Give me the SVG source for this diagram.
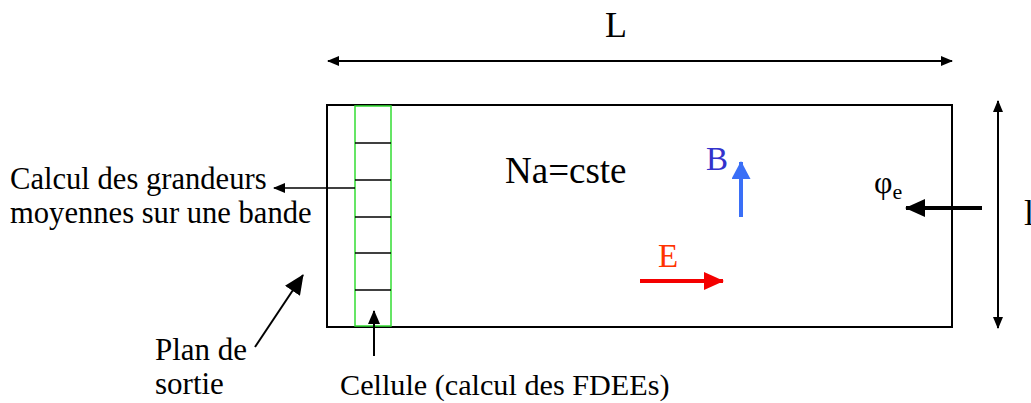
<svg xmlns="http://www.w3.org/2000/svg" width="1031" height="403" viewBox="0 0 1031 403">
<style>
text{font-family:'Liberation Serif','Times New Roman',Times,serif;fill:#000}
.ln{stroke:#000;stroke-width:2;fill:none}
.cl{stroke:#000;stroke-width:1.5}
</style>
<defs>
<marker id="ah" markerWidth="12" markerHeight="10" refX="11" refY="5" orient="auto" markerUnits="userSpaceOnUse" viewBox="0 0 12 10"><path d="M0,0 L12,5 L0,10 z" fill="#000"/></marker>
<marker id="ahs" markerWidth="12" markerHeight="10" refX="1" refY="5" orient="auto" markerUnits="userSpaceOnUse" viewBox="0 0 12 10"><path d="M12,0 L0,5 L12,10 z" fill="#000"/></marker>
<marker id="ahm" markerWidth="14" markerHeight="12" refX="13" refY="6" orient="auto" markerUnits="userSpaceOnUse" viewBox="0 0 14 12"><path d="M0,0 L14,6 L0,12 z" fill="#000"/></marker>
<marker id="ahb" markerWidth="20" markerHeight="18" refX="19" refY="9" orient="auto" markerUnits="userSpaceOnUse" viewBox="0 0 20 18"><path d="M0,0 L20,9 L0,18 z" fill="#000"/></marker>
<marker id="ahBlue" markerWidth="18" markerHeight="19" refX="17" refY="9.5" orient="auto" markerUnits="userSpaceOnUse" viewBox="0 0 18 19"><path d="M0,0 L18,9.5 L0,19 z" fill="#3a6ff7"/></marker>
<marker id="ahRed" markerWidth="20" markerHeight="18" refX="19" refY="9" orient="auto" markerUnits="userSpaceOnUse" viewBox="0 0 20 18"><path d="M0,0 L20,9 L0,18 z" fill="#f40000"/></marker>
</defs>

<g id="domain">
<rect x="327" y="105" width="625" height="222" fill="none" stroke="#000" stroke-width="2"/>
</g>

<g id="band">
<rect x="355" y="106" width="36" height="220" fill="none" stroke="#33dd33" stroke-width="1.5"/>
<line class="cl" x1="355" y1="143" x2="391" y2="143"/>
<line class="cl" x1="355" y1="180" x2="391" y2="180"/>
<line class="cl" x1="355" y1="217" x2="391" y2="217"/>
<line class="cl" x1="355" y1="253" x2="391" y2="253"/>
<line class="cl" x1="355" y1="290" x2="391" y2="290"/>
</g>

<g id="connectors">
<line class="ln" x1="328" y1="61" x2="952" y2="61" marker-start="url(#ahs)" marker-end="url(#ah)"/>
<line class="ln" x1="998" y1="101" x2="998" y2="328" marker-start="url(#ahs)" marker-end="url(#ah)"/>
<line x1="355" y1="188" x2="274" y2="188" stroke="#000" stroke-width="1.5" marker-end="url(#ah)"/>
<line x1="374" y1="356" x2="374" y2="311" stroke="#000" stroke-width="2" marker-end="url(#ahm)"/>
<line x1="255" y1="347" x2="303" y2="275" stroke="#000" stroke-width="2" marker-end="url(#ahb)"/>
<line x1="982" y1="208" x2="906" y2="208" stroke="#000" stroke-width="4" marker-end="url(#ahb)"/>
<line x1="741" y1="217" x2="741" y2="162" stroke="#3a6ff7" stroke-width="4" marker-end="url(#ahBlue)"/>
<line x1="640" y1="281" x2="723" y2="281" stroke="#f40000" stroke-width="4" marker-end="url(#ahRed)"/>
</g>

<g id="labels" font-family="Liberation Serif, serif">
<text x="605" y="37" font-size="36">L</text>
<text x="1024" y="225" font-size="36">l</text>
<text x="10" y="189" font-size="30.6">Calcul des grandeurs</text>
<text x="10" y="223" font-size="30.6">moyennes sur une bande</text>
<text x="505" y="183" font-size="37">Na=cste</text>
<text x="706" y="170" font-size="33" style="fill:#3333cc">B</text>
<text x="658" y="267" font-size="33" style="fill:#ff3300">E</text>
<text x="874" y="193" font-size="32">φ<tspan font-size="22" dy="6">e</tspan></text>
<text x="155" y="360" font-size="31">Plan de</text>
<text x="155" y="394" font-size="31">sortie</text>
<text x="340" y="395" font-size="30.2">Cellule (calcul des FDEEs)</text>
</g>
</svg>
